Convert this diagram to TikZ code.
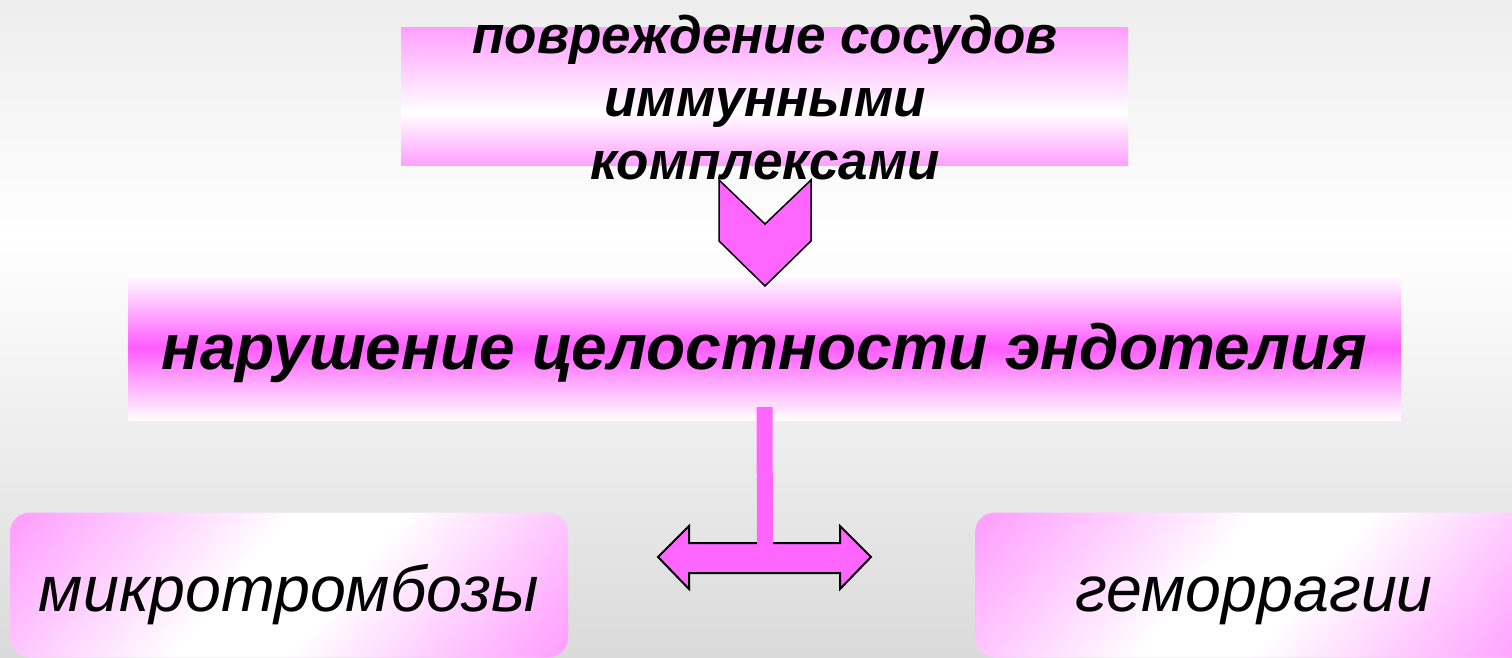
\documentclass[tikz,border=0pt]{standalone}
\usepackage{fontspec}
\setmainfont{Liberation Sans}
\usetikzlibrary{positioning}
\definecolor{pinkpale}{HTML}{FFA0FF}
\definecolor{magentamid}{HTML}{FF5BFF}
\definecolor{arrowpink}{HTML}{FF66FF}
\definecolor{bgtop}{HTML}{EDEDED}
\definecolor{bgbottom}{HTML}{DADADA}
\pgfdeclareverticalshading{bgshade}{100bp}{color(0bp)=(bgbottom); color(25bp)=(bgbottom); color(57bp)=(white); color(75bp)=(bgtop); color(100bp)=(bgtop)}
\pgfdeclareverticalshading{topshade}{100bp}{color(0bp)=(pinkpale); color(25bp)=(pinkpale); color(44bp)=(white); color(75bp)=(pinkpale); color(100bp)=(pinkpale)}
\pgfdeclarehorizontalshading{sideshade}{100bp}{color(0bp)=(pinkpale); color(16bp)=(pinkpale); color(44bp)=(white); color(56bp)=(white); color(84bp)=(pinkpale); color(100bp)=(pinkpale)}
\tikzset{
	topbox/.style={
		shade, shading=topshade,
		minimum width=727pt, minimum height=137pt, inner sep=0pt},
	toptext/.style={
		align=center,
		font=\fontsize{53}{63}\selectfont\bfseries\itshape},
	midbox/.style={
		top color=white, bottom color=white, middle color=magentamid,
		minimum width=1272pt, minimum height=145pt, inner sep=0pt,
		text height=50pt, text depth=7pt,
		font=\fontsize{64}{78}\selectfont\bfseries\itshape},
	sidebox/.style={
		shade, shading=sideshade, shading angle=-40, rounded corners=20pt,
		minimum width=558pt, minimum height=145pt, inner sep=0pt,
		text height=60pt, text depth=8pt,
		font=\fontsize{64.5}{78}\selectfont\itshape},
	chevron/.style={fill=arrowpink, draw=black, line width=1.5pt},
	splitarrow/.style={fill=arrowpink, draw=black, line width=2pt},
	stem/.style={draw=arrowpink, line width=16pt}
}

\begin{document}
\begin{tikzpicture}[x=1pt,y=-1pt]
	\clip (0,0) rectangle (1512,658);
	\shade[shading=bgshade] (0,0) rectangle (1512,658);
	\node[topbox] (damage) at (764.5,96.5) {};
	\node[toptext] (damagetext) at (765,98) {повреждение сосудов\\иммунными\\комплексами};
	\node[midbox] (breach) at (764.5,347.5) {нарушение целостности эндотелия};
	\node[sidebox] (micro) at (289,585) {микротромбозы};
	\node[sidebox] (hemo) at (1254,585) {геморрагии};
	\coordinate (fork) at (765,557);
	\draw[chevron] (719,180) -- (765,224) -- (811,180) -- (811,241) -- (765,286) -- (719,241) -- cycle;
	\draw[splitarrow] (658,557) -- (689,526) -- (689,543) -- (840,543) -- (840,526) -- (871,557)
		-- (840,589) -- (840,573) -- (689,573) -- (689,589) -- cycle;
	\draw[stem] ([yshift=13pt]breach.south) -- ([yshift=12pt]fork);
\end{tikzpicture}
\end{document}
